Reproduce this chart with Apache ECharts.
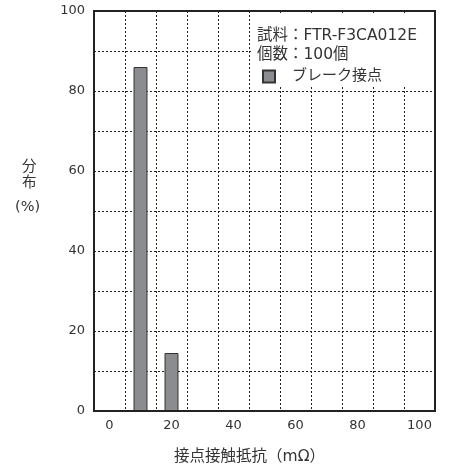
<!DOCTYPE html>
<html><head><meta charset="utf-8">
<script src="https://cdn.jsdelivr.net/npm/echarts@6/dist/echarts.min.js"></script>
<style>html,body{margin:0;padding:0;background:#fff}#c{width:451px;height:468px}</style>
</head><body><div id="c"></div>
<script>
const categories = ['0','10','20','30','40','50','60','70','80','90','100'];
const breakContact = [null, 86, 14.5, null, null, null, null, null, null, null, null];
const seriesName = 'ブレーク接点';
const infoLines = ['試料：FTR-F3CA012E', '個数：100個'];
const xName = '接点接触抵抗（mΩ）';
const yNameTop = '分\n布';
const yNameUnit = '(%)';

const FONT = '"DejaVu Sans", "Noto Sans CJK JP", sans-serif';
const TXT = '#333';
const chart = echarts.init(document.getElementById('c'));
chart.setOption({
  animation: false,
  backgroundColor: '#fff',
  textStyle: { fontFamily: FONT, color: TXT },
  grid: { left: 94, right: 16, top: 11, bottom: 57, outerBoundsMode: 'none', containLabel: false,
    show: true, borderColor: '#222', borderWidth: 2, backgroundColor: 'transparent', z: 10 },
  xAxis: {
    type: 'category', data: categories, boundaryGap: true,
    axisLine: { show: false }, axisTick: { show: false },
    axisLabel: { interval: 1, color: TXT, fontSize: 13, fontFamily: FONT, margin: 8 },
    splitLine: { show: true, interval: 0, lineStyle: { type: [2, 2], color: '#222', width: 1 } },
    name: xName, nameLocation: 'middle', nameGap: 38,
    nameTextStyle: { fontSize: 15.5, color: TXT, fontFamily: FONT, padding: [0, 30, 0, 0] }
  },
  yAxis: {
    type: 'value', min: 0, max: 100, interval: 10,
    axisLine: { show: false }, axisTick: { show: false },
    axisLabel: { color: TXT, fontSize: 13, fontFamily: FONT, margin: 9,
      formatter: v => (v % 20 === 0 ? String(v) : '') },
    splitLine: { show: true, lineStyle: { type: [2, 2], color: '#222', width: 1 } }
  },
  legend: {
    data: [seriesName], left: 257, top: 64, icon: 'rect', itemWidth: 12, itemHeight: 12,
    textStyle: { fontSize: 15, color: TXT, fontFamily: FONT, padding: [0, 0, 0, 12] }, z: 6
  },
  graphic: [
    { type: 'rect', shape: { x: 251, y: 14, width: 181, height: 72 }, style: { fill: '#fff' }, z: 3 },
    { type: 'text', left: 257, top: 28, style: { text: infoLines[0], font: '15.5px ' + FONT, fill: TXT }, z: 6 },
    { type: 'text', left: 257, top: 47, style: { text: infoLines[1], font: '15.5px ' + FONT, fill: TXT }, z: 6 },
    { type: 'text', left: 22, top: 159, style: { text: yNameTop, font: '14.5px ' + FONT, fill: TXT, lineHeight: 16 } },
    { type: 'text', left: 15, top: 200, style: { text: yNameUnit, font: '14.5px ' + FONT, fill: TXT } }
  ],
  series: [{
    name: seriesName, type: 'bar', data: breakContact, barWidth: '45%',
    itemStyle: { color: '#8b8c90', borderColor: '#333', borderWidth: 1 }
  }]
});
</script></body></html>
